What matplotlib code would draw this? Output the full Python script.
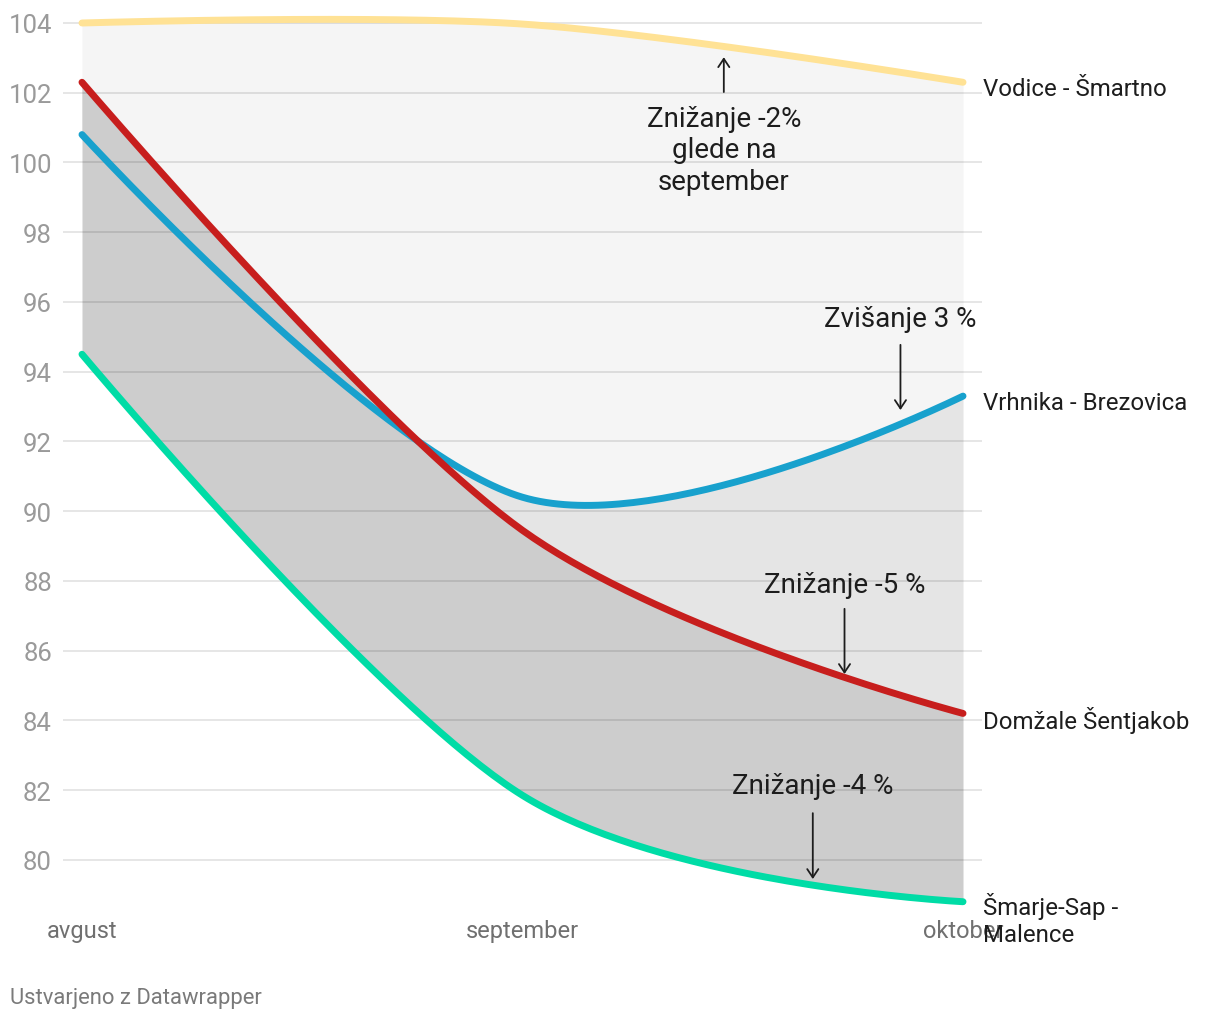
import matplotlib.pyplot as plt
import numpy as np

plt.rcParams['font.family'] = ['Roboto', 'DejaVu Sans']

# --- data ---
months = ['avgust', 'september', 'oktober']
vodice = [104.0, 103.97, 102.3]
vrhnika = [100.8, 90.4, 93.3]
domzale = [102.3, 89.45, 84.2]
smarje = [94.5, 81.85, 78.8]

series_names = ['Vodice - Šmartno', 'Vrhnika - Brezovica',
                'Domžale Šentjakob', 'Šmarje-Sap -\nMalence']
series_colors = ['#ffe295', '#18a1cd', '#c71e1d', '#00dca6']
yticks = list(range(80, 105, 2))


def cardinal_curve(ys, n=80):
    """d3-style cardinal (tension 0) curve through evenly spaced points."""
    pts = np.column_stack([np.arange(len(ys)), ys]).astype(float)
    k = 1 / 6
    out = []
    for i in range(len(pts) - 1):
        p1, p2 = pts[i], pts[i + 1]
        p0 = pts[i - 1] if i > 0 else p2
        p3 = pts[i + 2] if i + 2 < len(pts) else p1
        c1 = p1 + k * (p2 - p0) if i > 0 else p1
        c2 = p2 - k * (p3 - p1) if i + 2 < len(pts) else p2
        t = np.linspace(0, 1, n)[:, None]
        seg = ((1 - t) ** 3) * p1 + 3 * ((1 - t) ** 2) * t * c1 \
            + 3 * (1 - t) * t ** 2 * c2 + t ** 3 * p2
        out.append(seg if i == 0 else seg[1:])
    out = np.vstack(out)
    return out[:, 0], out[:, 1]


fig = plt.figure(figsize=(12.2, 10.2), dpi=100)
ax = fig.add_axes([63 / 1220, 1 - 912 / 1020, 919 / 1220, 898 / 1020])

xs = np.linspace(0, 2, 600)
curves = []
for ys in [vodice, vrhnika, domzale, smarje]:
    cx, cy = cardinal_curve(ys)
    curves.append((cx, cy, np.interp(xs, cx, cy)))

# area fills between neighbouring lines
fills = ['#f5f5f5', '#e5e5e5', '#cdcdcd']
for i, c in enumerate(fills):
    ax.fill_between(xs, curves[i][2], curves[i + 1][2], color=c, lw=0, zorder=1)

for y in yticks:
    ax.axhline(y, color='black', alpha=0.1, lw=1.4, zorder=1.5)

for (cx, cy, _), col, name, ys in zip(curves, series_colors, series_names,
                                      [vodice, vrhnika, domzale, smarje]):
    ax.plot(cx, cy, color=col, lw=5, solid_capstyle='round', zorder=3, clip_on=False)
    if '\n' in name:
        ax.annotate(name, (2, ys[-1]), xytext=(14.5, 7), textcoords='offset points',
                    ha='left', va='top', fontsize=17.3, color='#1d1d1d',
                    linespacing=1.2, zorder=4)
    else:
        ax.annotate(name, (2, ys[-1]), xytext=(14.5, -4.5), textcoords='offset points',
                    ha='left', va='center', fontsize=17.3, color='#1d1d1d', zorder=4)

# annotations
notes = [
    ('Znižanje -2%\nglede na\nseptember', 1.457, 100.36, 102.02, 103.02),
    ('Zvišanje 3 %', 1.858, 95.54, 94.77, 92.90),
    ('Znižanje -5 %', 1.731, 87.91, 87.20, 85.33),
    ('Znižanje -4 %', 1.659, 82.12, 81.34, 79.45),
]
for txt, x, ty, y0, y1 in notes:
    ax.text(x, ty, txt, ha='center', va='center', fontsize=20, color='#1d1d1d',
            linespacing=1.2, zorder=4)
    ax.annotate('', xy=(x, y1), xytext=(x, y0),
                arrowprops=dict(arrowstyle='->,head_length=0.6,head_width=0.4',
                                color='#1d1d1d', lw=1.3, shrinkA=0, shrinkB=0),
                zorder=4)

ax.set_xlim(-19 / 440.7, 2 + 19 / 440.7)
ax.set_ylim(104 - 888 / 34.87, 104 + 10 / 34.87)
ax.set_yticks(yticks)
ax.set_yticklabels([str(v) for v in yticks], fontsize=18.5, color='#9a9a9a')
ax.set_xticks(range(len(months)))
ax.set_xticklabels(months, fontsize=17, color='#707070')
ax.tick_params(axis='y', length=0, pad=8)
ax.tick_params(axis='x', length=0, pad=5.5)
for s in ax.spines.values():
    s.set_visible(False)

fig.text(10 / 1220, 1 - 999 / 1020, 'Ustvarjeno z Datawrapper', ha='left', va='center',
         fontsize=15.8, color='#7a7a7a')

plt.savefig('out.png', dpi=100)
